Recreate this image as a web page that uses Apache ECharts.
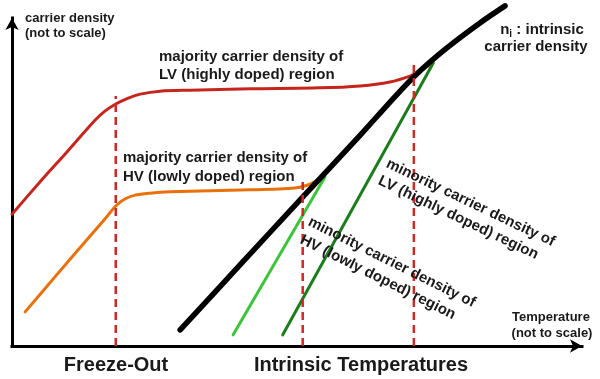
<!DOCTYPE html>
<html>
<head>
<meta charset="utf-8">
<script src="https://cdn.jsdelivr.net/npm/echarts@6/dist/echarts.min.js"></script>
<style>
html,body{margin:0;padding:0;background:#fff;}
#chart{width:600px;height:379px;}
</style>
</head>
<body>
<div id="chart"></div>
<script>
// Schematic values (arbitrary units: temperature 0-100, density 0-100)
const lvMajority = [[0,40.2],[4.9,50.0],[9.6,59.1],[14.6,68.9],[16.3,71.6],[18.2,73.8],[20.4,75.6],[22.5,76.8],[26.0,77.7],[31.2,78.0],[41.8,78.4],[54.0,78.7],[61.1,79.3],[66.3,80.5],[69.8,82.3],[71.6,83.8],[73.0,85.4]];
const hvMajority = [[2.3,10.4],[7.5,21.0],[12.8,31.7],[16.3,38.7],[18.2,42.7],[19.8,44.8],[21.6,46.0],[24.2,46.6],[27.7,47.0],[41.8,47.6],[49.6,48.2],[51.9,49.1],[53.3,50.3],[54.4,51.8]];
const intrinsic = [[29.5,4.9],[40.0,24.7],[50.5,44.5],[61.1,64.3],[66.8,75.3],[71.1,83.1],[76.3,90.9],[82.1,98.5],[86.5,103.7]];
const hvMinority = [[38.8,3.4],[54.9,51.5]];
const lvMinority = [[47.5,3.4],[73.9,86.3]];
const boundaryX = [18.2, 51.0, 70.5];
const boundaryTop = [76.2, 50.0, 85.7];

const FONT = '"Liberation Sans", Arial, sans-serif';
const TXT = '#1a1a1a';

const chart = echarts.init(document.getElementById('chart'), null, {renderer:'canvas'});

function lineSeries(data, color, width, z, smooth) {
  return {
    type: 'line', data: data, showSymbol: false, symbol: 'none', clip: false,
    smooth: smooth, silent: true, z: z,
    lineStyle: {color: color, width: width, cap: 'round', join: 'round'}
  };
}

const series = [
  lineSeries(lvMajority, '#c4261d', 3, 2, 0.3),
  lineSeries(hvMajority, '#e8710a', 3, 2, 0.3),
  lineSeries(hvMinority, '#3ec43a', 3, 3, false),
  lineSeries(lvMinority, '#1b7d1b', 3, 3, false),
  lineSeries(intrinsic, '#000000', 5.5, 4, 0.3)
];
boundaryX.forEach(function (x, i) {
  series.push({
    type: 'line', data: [[x, 0], [x, boundaryTop[i]]], showSymbol: false, symbol: 'none',
    silent: true, z: 5,
    lineStyle: {color: '#cc2a22', width: 2.5, type: [8, 5]}
  });
});

function txt(x, y, text, size, align, rot) {
  return {
    type: 'text', x: x, y: y, rotation: rot ? -rot * Math.PI / 180 : 0, z: 10,
    style: {text: text, font: 'bold ' + size + 'px ' + FONT, fill: TXT,
            textAlign: align || 'left', textVerticalAlign: 'middle'}
  };
}

const graphics = [
  txt(25, 18, 'carrier density', 13),
  txt(25, 33, '(not to scale)', 13),
  txt(159, 57, 'majority carrier density of', 15),
  txt(159, 75, 'LV (highly doped) region', 15),
  txt(123, 158, 'majority carrier density of', 15),
  txt(123, 177, 'HV (lowly doped) region', 15),
  {
    type: 'text', x: 542, y: 30, z: 10,
    style: {
      text: '{a|n}{s|i}{a| : intrinsic}',
      textAlign: 'center', textVerticalAlign: 'middle',
      rich: {
        a: {font: 'bold 15px ' + FONT, fill: TXT, lineHeight: 18, verticalAlign: 'middle'},
        s: {font: 'bold 10px ' + FONT, fill: TXT, lineHeight: 18, verticalAlign: 'bottom'}
      }
    }
  },
  txt(536, 47, 'carrier density', 15, 'center'),
  txt(551, 317, 'Temperature', 13, 'center'),
  txt(552, 333, '(not to scale)', 13, 'center'),
  txt(116, 365, 'Freeze-Out', 20, 'center'),
  txt(361, 365, 'Intrinsic Temperatures', 20, 'center'),
  txt(387, 163, 'minority carrier density of', 15, 'left', 25.5),
  txt(379, 180, 'LV (highly doped) region', 15, 'left', 25.5),
  txt(309, 221, 'minority carrier density of', 15, 'left', 26.5),
  txt(301, 239, 'HV (lowly doped) region', 15, 'left', 26.5)
];

const axisLineStyle = {
  show: true, onZero: false, symbol: ['none', 'arrow'], symbolSize: [10, 12],
  lineStyle: {color: '#000', width: 3, cap: 'square'}
};

chart.setOption({
  animation: false,
  backgroundColor: '#fff',
  grid: {left: 12, right: 18, top: 18, bottom: 33, containLabel: false},
  xAxis: {
    type: 'value', min: 0, max: 100,
    axisLine: axisLineStyle, axisTick: {show: false}, axisLabel: {show: false}, splitLine: {show: false}
  },
  yAxis: {
    type: 'value', min: 0, max: 100,
    axisLine: axisLineStyle, axisTick: {show: false}, axisLabel: {show: false}, splitLine: {show: false}
  },
  series: series,
  graphic: graphics
});
</script>
</body>
</html>
